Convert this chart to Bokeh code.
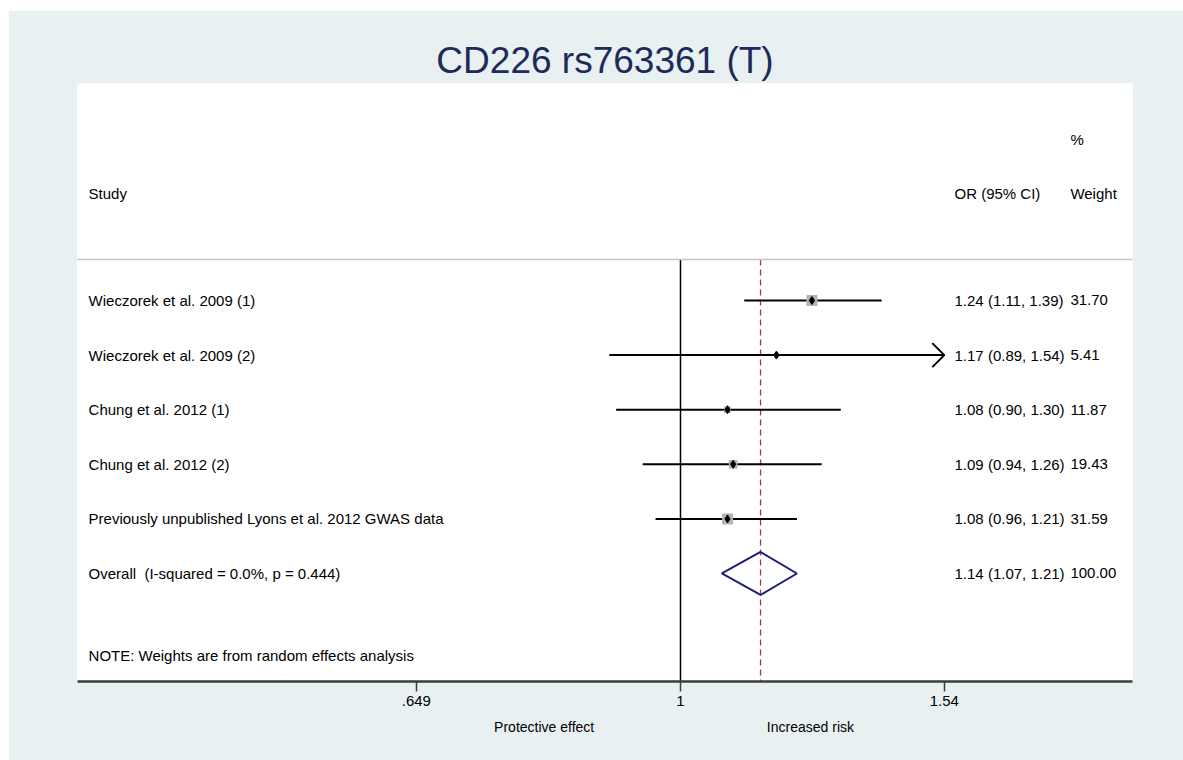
import math

from bokeh.core.properties import value
from bokeh.embed import file_html
from bokeh.models import FixedTicker, LogAxis, Range1d, Span
from bokeh.plotting import figure
from bokeh.resources import INLINE

# ---- data -----------------------------------------------------------------
studies = [
    "Wieczorek et al. 2009 (1)",
    "Wieczorek et al. 2009 (2)",
    "Chung et al. 2012 (1)",
    "Chung et al. 2012 (2)",
    "Previously unpublished Lyons et al. 2012 GWAS data",
]
odds_ratio = [1.24, 1.17, 1.08, 1.09, 1.08]
ci_low = [1.11, 0.89, 0.90, 0.94, 0.96]
ci_high = [1.39, 1.54, 1.30, 1.26, 1.21]
weight_pct = [31.70, 5.41, 11.87, 19.43, 31.59]

# non-breaking space keeps the double gap after "Overall" in SVG text
overall_label = "Overall\u00a0 (I-squared = 0.0%, p = 0.444)"
overall_or = 1.14
overall_low = 1.07
overall_high = 1.21
overall_weight = 100.00

x_ticks = [0.649, 1, 1.54]
x_tick_labels = [".649", "1", "1.54"]
direction_labels = ["Protective effect", "Increased risk"]
direction_pos = [0.80, 1.237]

note_text = "NOTE: Weights are from random effects analysis"
title_text = "CD226 rs763361 (T)"

# ---- layout constants -------------------------------------------------------
FONT = "Liberation Sans"
FS = "15px"
X_MIN, X_MAX = 0.3727, 2.0956          # log-scaled axis window
AXIS_CAP = 1.54                          # CIs beyond this get an arrow
Y_BOTTOM, Y_TOP = 7.978, -2.974          # rows run downward
STUDY_X, EST_X, WT_X = 0.3795, 1.566, 1.893
HEADER_Y, PCT_Y, RULE_Y, NOTE_Y = -0.96, -1.95, 0.25, 7.5
PX_PER_LN = 611.0
PX_PER_ROW = 54.6

rows = [i + 1 for i in range(len(studies))]
overall_row = len(studies) + 1

p = figure(
    frame_width=1055, frame_height=598,
    x_axis_type="log",
    x_range=Range1d(X_MIN, X_MAX),
    y_range=Range1d(Y_BOTTOM, Y_TOP),
    y_axis_location=None,
    output_backend="svg", toolbar_location=None,
    min_border_left=69, min_border_right=51,
    min_border_top=73, min_border_bottom=79,
    margin=(10, 0, 0, 8),
    title=title_text,
)
p.border_fill_color = "#e8f0f2"
p.background_fill_color = "white"
p.outline_line_color = None
p.xgrid.visible = False
p.ygrid.visible = False

p.title.align = "center"
p.title.text_font = FONT
p.title.text_font_size = "37px"
p.title.text_font_style = "normal"
p.title.text_color = "#1c2b5a"
p.title.standoff = 6

# main x axis
ax = p.xaxis[0]
ax.ticker = FixedTicker(ticks=x_ticks)
ax.major_label_overrides = dict(zip(x_ticks, x_tick_labels))
ax.axis_line_color = "#3c3c3c"
ax.axis_line_width = 2.5
ax.major_tick_line_color = "#3c3c3c"
ax.major_tick_line_width = 1.5
ax.major_tick_in = 0
ax.major_tick_out = 10
ax.minor_tick_line_color = None
ax.major_label_standoff = 4
ax.major_label_text_font = FONT
ax.major_label_text_font_size = FS
ax.major_label_text_color = "black"

# direction captions under the axis
cap_ax = LogAxis(
    ticker=FixedTicker(ticks=direction_pos),
    major_label_overrides=dict(zip(direction_pos, direction_labels)),
    axis_line_color=None, major_tick_line_color=None, minor_tick_line_color=None,
    major_label_standoff=4,
    major_label_text_font=FONT, major_label_text_font_size="14px",
    major_label_text_color="black",
)
p.add_layout(cap_ax, "below")

# header rule
p.add_layout(Span(location=RULE_Y, dimension="width", line_color="#c4c4c4", line_width=1.5))

# null line and overall-estimate line
p.segment(x0=[1], y0=[RULE_Y], x1=[1], y1=[Y_BOTTOM], line_color="black", line_width=1.5)
p.segment(x0=[overall_or], y0=[RULE_Y], x1=[overall_or], y1=[Y_BOTTOM],
          line_color="#9a3c4c", line_width=1.3, line_dash="6 4")

# confidence intervals
hi_clipped = [min(h, AXIS_CAP) for h in ci_high]
p.segment(x0=ci_low, y0=rows, x1=hi_clipped, y1=rows, line_color="black", line_width=2)

# arrowheads on truncated intervals
dx = math.exp(-12 / PX_PER_LN)
dy = 12 / PX_PER_ROW
arrow_xs, arrow_ys = [], []
for h, r in zip(ci_high, rows):
    if h >= AXIS_CAP:
        arrow_xs.append([AXIS_CAP * dx, AXIS_CAP, AXIS_CAP * dx])
        arrow_ys.append([r - dy, r, r + dy])
if arrow_xs:
    p.multi_line(xs=arrow_xs, ys=arrow_ys, line_color="black", line_width=2)

# weight boxes (area proportional to weight) and point estimates
box_size = [11 * math.sqrt(w / max(weight_pct)) for w in weight_pct]
p.scatter(x=odds_ratio, y=rows, size=box_size, marker="square",
          fill_color="#b4b4b4", line_color=None)
p.scatter(x=odds_ratio, y=rows, size=8, marker="diamond",
          fill_color="black", line_color="black")

# pooled estimate diamond
half_h = 21.5 / PX_PER_ROW
p.patch(x=[overall_low, overall_or, overall_high, overall_or],
        y=[overall_row, overall_row - half_h, overall_row, overall_row + half_h],
        fill_color=None, line_color="#1a1f7a", line_width=2)

# text columns
left_text = studies + [overall_label]
est_text = [f"{o:.2f} ({l:.2f}, {h:.2f})" for o, l, h in zip(odds_ratio, ci_low, ci_high)]
est_text.append(f"{overall_or:.2f} ({overall_low:.2f}, {overall_high:.2f})")
wt_text = [f"{w:.2f}" for w in weight_pct] + [f"{overall_weight:.2f}"]
all_rows = rows + [overall_row]

txt = dict(text_font=value(FONT), text_font_size=FS, text_color="black",
           text_baseline="middle", text_align="left")

p.text(x=[STUDY_X] * len(all_rows), y=all_rows, text=left_text, **txt)
p.text(x=[EST_X] * len(all_rows), y=all_rows, text=est_text, **txt)
p.text(x=[WT_X] * len(all_rows), y=all_rows, text=wt_text, **txt)

p.text(x=[STUDY_X, EST_X, WT_X, WT_X], y=[HEADER_Y, HEADER_Y, HEADER_Y, PCT_Y],
       text=["Study", "OR (95% CI)", "Weight", "%"], **txt)
p.text(x=[STUDY_X], y=[NOTE_Y], text=[note_text], **txt)

open("out.html", "w").write(file_html(p, INLINE))
